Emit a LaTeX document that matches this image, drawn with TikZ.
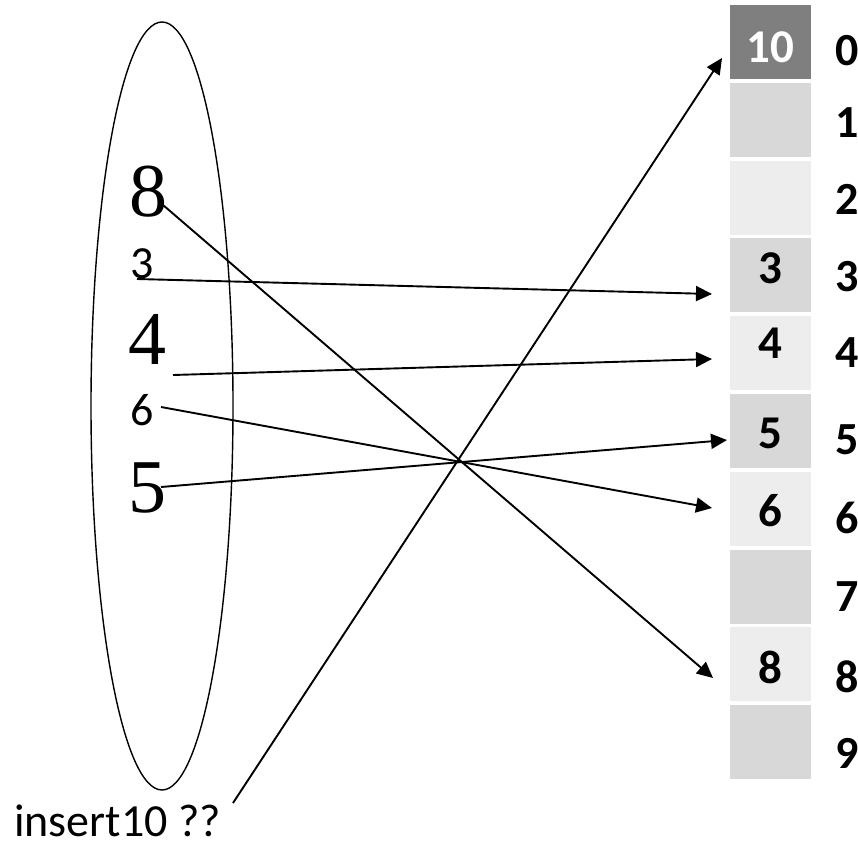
\documentclass[tikz,border=0pt]{standalone}
\usepackage{fontspec}
\setmainfont{Carlito}
\newfontfamily\serifdig{Liberation Serif}
\usetikzlibrary{arrows.meta,shapes.geometric}
\definecolor{cdark}{HTML}{7F7F7F}
\definecolor{cmid}{HTML}{D8D8D8}
\definecolor{clight}{HTML}{EDEDED}
\tikzset{
  cellbox/.style={draw=none, minimum width=81pt, minimum height=74pt, inner sep=0pt},
  cellnum/.style={inner sep=0pt, font=\fontsize{47}{54}\selectfont\bfseries},
  idxnum/.style={inner sep=0pt, anchor=west, font=\fontsize{46}{54}\selectfont\bfseries},
  bignum/.style={inner sep=0pt, font=\fontsize{76}{82}\serifdig},
  smallnum/.style={inner sep=0pt, font=\fontsize{46}{54}\selectfont},
  arr/.style={line width=1.9pt, -{Triangle[length=16pt,width=15pt]}},
}
\begin{document}
\begin{tikzpicture}[x=1pt,y=-1pt]
\useasboundingbox (0,0) rectangle (858,845);
% set ellipse
\node[ellipse, draw, line width=1.4pt, minimum width=142pt, minimum height=768pt, inner sep=0pt] (set) at (162,406) {};
% table cells
\foreach \i/\c in {0/cdark,1/cmid,2/clight,3/cmid,4/clight,5/cmid,6/clight,7/cmid,8/clight,9/cmid}{
  \node[cellbox, fill=\c] (c\i) at (770.5,{42+77.8*\i}) {};
}
% cell values
\node[cellnum, text=white] (v10) at (770.5,47) {10};
\node[cellnum] (v3) at (770,268) {3};
\node[cellnum] (v4) at (770,343) {4};
\node[cellnum] (v5) at (770,433) {5};
\node[cellnum] (v6) at (770,511) {6};
\node[cellnum] (v8) at (770,667) {8};
% index labels
\foreach \i/\y in {0/51,1/123,2/199,3/277,4/353,5/440,6/518,7/597,8/677,9/753}{
  \node[idxnum] (i\i) at (835,\y) {\i};
}
% set members
\node[bignum] (n8) at (148,192) {8};
\node[smallnum] (n3) at (142,264) {3};
\node[bignum] (n4) at (147,339) {4};
\node[smallnum] (n6) at (142.5,410) {6};
\node[bignum] (n5) at (147,488) {5};
% insert label
\node[inner sep=0pt, anchor=base west, text depth=0pt, font=\fontsize{46}{54}\selectfont] (ins) at (14,836) {insert10 ??};
% connector endpoints
\coordinate (s8) at (163,205);
\coordinate (s3) at (137,279);
\coordinate (s4) at (173,375);
\coordinate (s6) at (161,407);
\coordinate (s5) at (161,487);
\coordinate (s10) at (233,803);
\coordinate (t8) at (713,678);
\coordinate (t3) at (712,294);
\coordinate (t4) at (712,359);
\coordinate (t6) at (712,508);
\coordinate (t5) at (727,440);
\coordinate (t10) at (722,58);
% arrows
\draw[arr] (s8) -- (t8);
\draw[arr] (s3) -- (t3);
\draw[arr] (s4) -- (t4);
\draw[arr] (s6) -- (t6);
\draw[arr] (s5) -- (t5);
\draw[arr] (s10) -- (t10);
\end{tikzpicture}
\end{document}
